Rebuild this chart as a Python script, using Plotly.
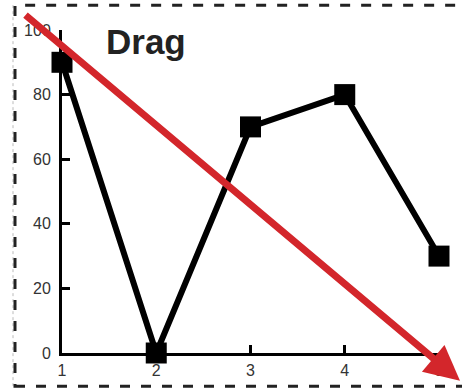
import plotly.graph_objects as go

x_vals = [1, 2, 3, 4, 5]
y_vals = [90, 0, 70, 80, 30]
y_ticks = [0, 20, 40, 60, 80, 100]
x_ticks = [1, 2, 3, 4, 5]
label_text = "Drag"

W, H = 462, 391
L, R, T, B = 62, 23, 30, 36
PW, PH = W - L - R, H - T - B

def px(x):
    return (x - L) / PW

def py(y):
    return (H - B - y) / PH

fig = go.Figure()
fig.add_trace(go.Scatter(
    x=x_vals, y=y_vals, mode="lines+markers",
    line=dict(color="black", width=6),
    marker=dict(symbol="square", size=21, color="black"),
    cliponaxis=False, showlegend=False, hoverinfo="skip",
))

tickfont = dict(family="Liberation Sans Narrow, Liberation Sans, Arial", size=16, color="#333")
fig.update_xaxes(range=[1, 5], tickvals=x_ticks, ticktext=[str(v) for v in x_ticks],
                 showgrid=False, zeroline=False, showline=True, linecolor="black", linewidth=3,
                 ticks="inside", ticklen=8, tickwidth=3, tickcolor="black", tickfont=tickfont,
                 ticklabelstandoff=1)
fig.update_yaxes(range=[0, 100], tickvals=y_ticks, ticktext=[str(v) for v in y_ticks],
                 showgrid=False, zeroline=False, showline=True, linecolor="black", linewidth=3,
                 ticks="inside", ticklen=8, tickwidth=3, tickcolor="black", tickfont=tickfont,
                 ticklabelstandoff=5)

shapes = [
    dict(type="line", xref="paper", yref="paper", x0=px(13), x1=px(13), y0=py(5), y1=py(388),
         line=dict(color="#bbb", width=1, dash="dot"), layer="below"),
    dict(type="rect", xref="paper", yref="paper", x0=px(15), x1=px(475), y0=py(388.5), y1=py(5),
         line=dict(color="#222", width=3, dash="10px,11px"), layer="below"),
]

annotations = [
    dict(xref="paper", yref="paper", x=px(146), y=py(42), text="<b>" + label_text + "</b>",
         showarrow=False, xanchor="center", yanchor="middle",
         font=dict(family="Liberation Sans, Arial", size=35, color="#222")),
    dict(xref="paper", yref="paper", x=px(460), y=py(383), text="",
         showarrow=True, ax=24 - 460, ay=16 - 383, arrowhead=2, arrowsize=1.0,
         arrowwidth=7, arrowcolor="#d3262b", standoff=0, startstandoff=0),
]

fig.update_layout(
    width=W, height=H, margin=dict(l=L, r=R, t=T, b=B), autosize=False,
    paper_bgcolor="white", plot_bgcolor="white",
    shapes=shapes, annotations=annotations, showlegend=False,
)

post = (
    "var s=document.createElement('style');"
    "s.textContent='html,body{margin:0;padding:0;height:%dpx;width:%dpx;overflow:hidden;line-height:0}"
    "body>div{height:%dpx;overflow:hidden;display:block}';"
    "document.head.appendChild(s);" % (H, W, H)
)
fig.write_html("out.html", config=dict(displayModeBar=False, responsive=False), post_script=post)
